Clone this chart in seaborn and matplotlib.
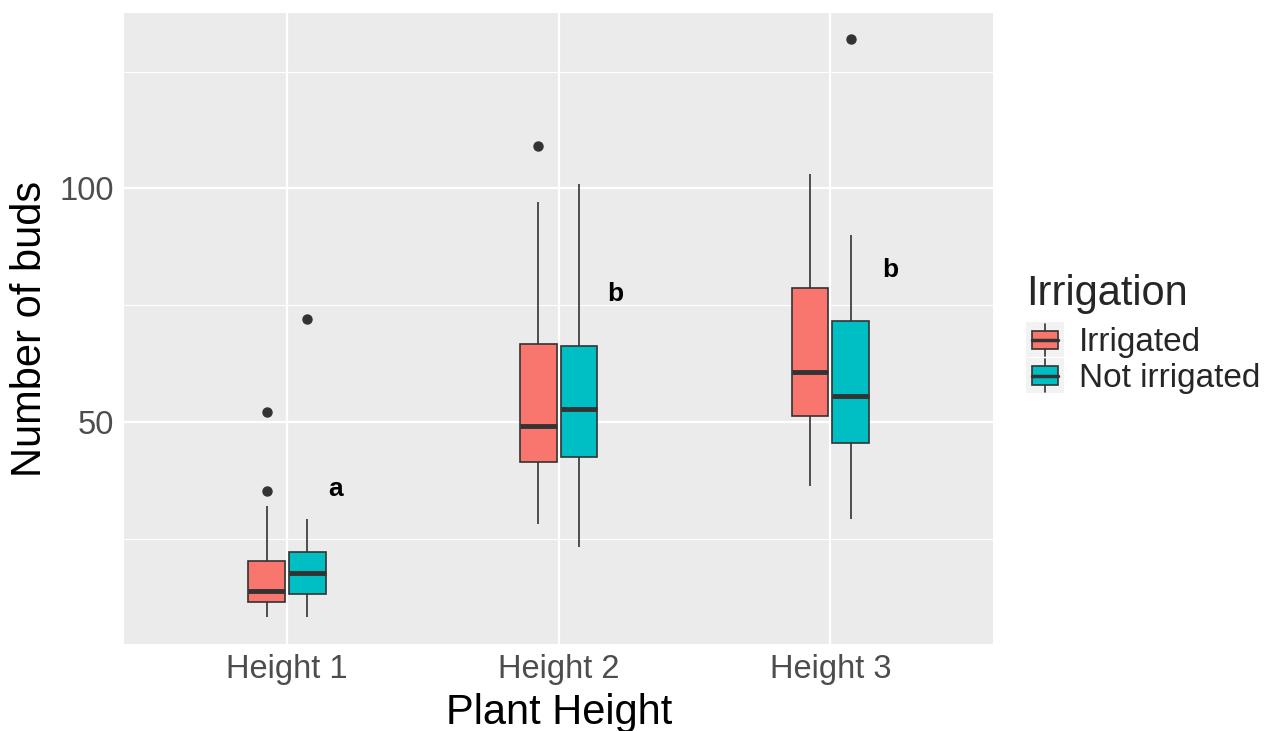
import numpy as np
import pandas as pd
import matplotlib
matplotlib.use("Agg")
import matplotlib.pyplot as plt
import seaborn as sns
from matplotlib.legend_handler import HandlerBase
from matplotlib.patches import Rectangle, Patch
from matplotlib.lines import Line2D

# ---------------- data ----------------
heights = ["Height 1", "Height 2", "Height 3"]
irrigation = ["Irrigated", "Not irrigated"]
colors = ["#F8766D", "#00BFC4"]
# box summaries, order: (H1,Irr) (H1,Not) (H2,Irr) (H2,Not) (H3,Irr) (H3,Not)
group_height = ["Height 1", "Height 1", "Height 2", "Height 2", "Height 3", "Height 3"]
group_irrig = ["Irrigated", "Not irrigated"] * 3
whisker_low = [8.2, 8.2, 28.2, 23.2, 36.2, 29.2]
q1 = [11.3, 13.1, 41.3, 42.4, 51.2, 45.4]
median = [13.7, 17.7, 49.1, 52.7, 60.7, 55.6]
q3 = [20.2, 22.1, 66.6, 66.3, 78.6, 71.6]
whisker_high = [32.0, 29.1, 97.0, 100.9, 103.0, 90.0]
outliers = [[35.2, 52.1], [72.0], [109.1], [], [], [132.0]]
letters = ["a", "b", "b"]
letter_x = [0.18, 1.21, 2.22]
letter_y = [35.7, 77.5, 82.5]

# Build a 13-value sample per group that reproduces each five-number summary
rows = []
for i in range(len(group_height)):
    high = [whisker_high[i]] * (3 - len(outliers[i])) + list(outliers[i])
    vals = ([whisker_low[i]] * 3 + [q1[i], q1[i], median[i], median[i],
            median[i], q3[i], q3[i]] + high)
    for v in vals:
        rows.append({"height": group_height[i], "irrigation": group_irrig[i], "buds": v})
df = pd.DataFrame(rows)

# ---------------- plotting ----------------
sns.set_style("white")
plt.rcParams["font.family"] = ["Liberation Sans", "DejaVu Sans"]

fig = plt.figure(figsize=(12.79, 7.31), dpi=100)
ax = fig.add_axes([0.097, 0.119, 0.6796, 0.8632])
ax.set_facecolor("#EBEBEB")
for s in ax.spines.values():
    s.set_visible(False)

sns.boxplot(data=df, x="height", y="buds", hue="irrigation",
            order=heights, hue_order=irrigation, palette=colors,
            saturation=1, width=0.3, gap=0.1, linecolor="#333333",
            linewidth=1.2, whis=1.5, fliersize=6.5,
            flierprops=dict(marker="o", markerfacecolor="#333333",
                            markeredgecolor="#333333"),
            medianprops=dict(color="#333333", linewidth=3.5),
            showcaps=False, legend=False, ax=ax)

for t, x, y in zip(letters, letter_x, letter_y):
    ax.text(x, y, t, ha="center", va="center", fontsize=19,
            fontweight="bold", color="black")

ax.set_xlim(-0.6, 2.6)
ax.set_ylim(2.4, 137.6)
ax.set_yticks([50, 100])
ax.set_yticks([25, 75, 125], minor=True)
ax.set_axisbelow(True)
ax.grid(which="major", color="white", linewidth=1.6)
ax.grid(which="minor", axis="y", color="white", linewidth=0.8)
ax.tick_params(which="major", length=4, width=1.1, color="#333333",
               labelsize=23.5, labelcolor="#4D4D4D", pad=3)
ax.tick_params(which="minor", length=0)
ax.set_xlabel("Plant Height", fontsize=30, color="black", labelpad=6)
ax.set_ylabel("Number of buds", fontsize=30, color="black", labelpad=7)


class BoxKeyHandler(HandlerBase):
    def create_artists(self, legend, orig_handle, xdescent, ydescent,
                       width, height, fontsize, trans):
        x0, y0 = -xdescent, -ydescent
        bg = Rectangle((x0, y0), width, height, facecolor="#F2F2F2",
                       edgecolor="none", transform=trans)
        cx = x0 + width / 2
        wl = Line2D([cx, cx], [y0 + 0.04 * height, y0 + 0.96 * height],
                    color="#333333", lw=1.2, transform=trans)
        bw = 0.68 * width
        box = Rectangle((cx - bw / 2, y0 + 0.24 * height), bw, 0.52 * height,
                        facecolor=orig_handle.get_facecolor(),
                        edgecolor="#333333", lw=1.2, transform=trans)
        med = Line2D([cx - bw / 2, cx + bw / 2], [y0 + 0.5 * height] * 2,
                     color="#333333", lw=2.5, transform=trans)
        return [bg, wl, box, med]


handles = [Patch(facecolor=c, edgecolor="#333333") for c in colors]
leg = fig.legend(handles, irrigation, title="Irrigation",
                 handler_map={Patch: BoxKeyHandler()},
                 loc="upper left", bbox_to_anchor=(1026 / 1279, 1 - 274 / 731),
                 frameon=False, fontsize=24, title_fontsize=30,
                 handlelength=1.15, handleheight=1.24, handletextpad=0.45,
                 labelspacing=0.0, borderpad=0, borderaxespad=0,
                 alignment="left")
leg._legend_box.sep = 6

fig.savefig("out.png", dpi=100)
